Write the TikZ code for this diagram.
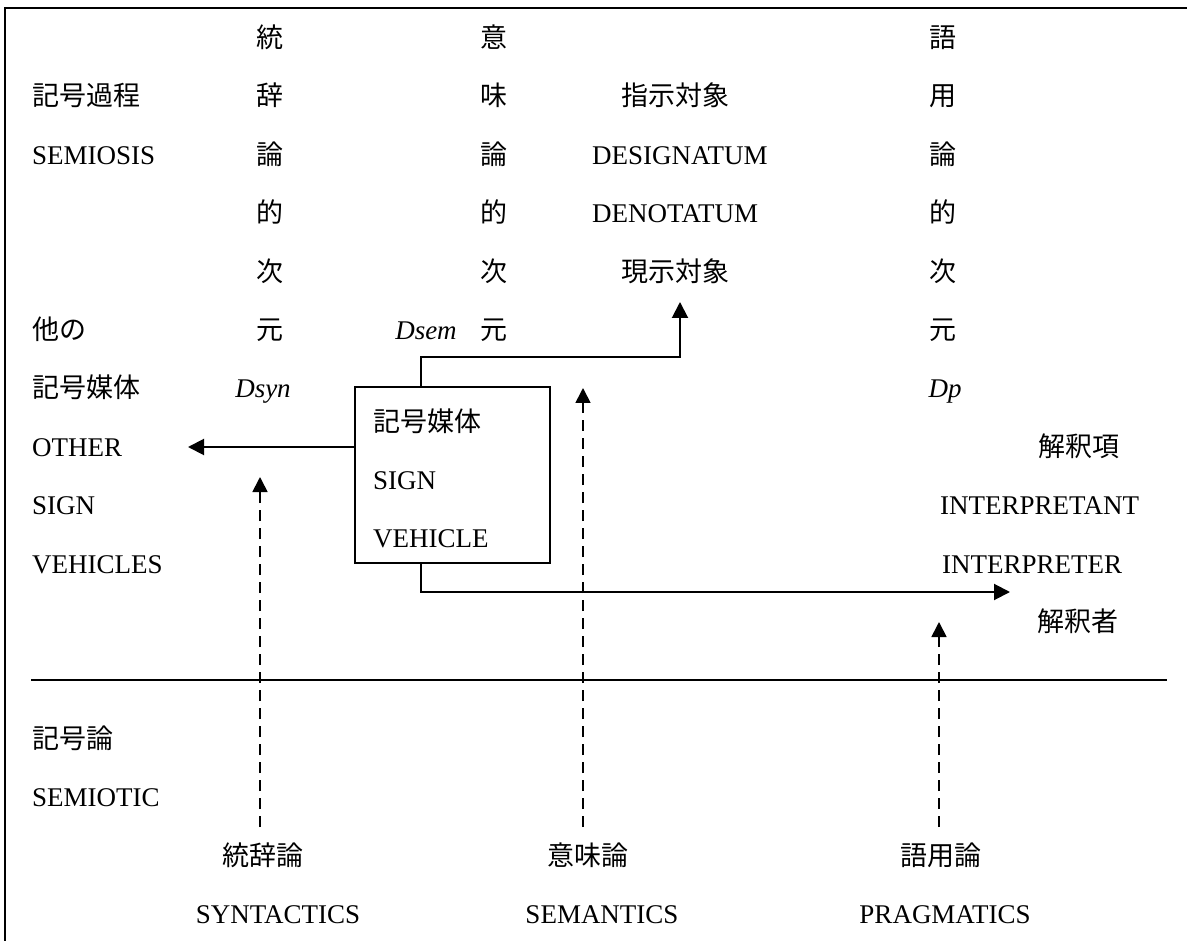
\documentclass[tikz,border=0pt]{standalone}
\usepackage{fontspec}
\setmainfont{Liberation Serif}
\newfontfamily\jp{Noto Sans CJK JP}
\usetikzlibrary{arrows.meta}

\begin{document}
\begin{tikzpicture}[x=1pt,y=-1pt,
  txt/.style={inner sep=0pt, text height=19pt, text depth=0pt,
              font=\fontsize{27pt}{30pt}\selectfont},
  jtxt/.style={txt, font=\fontsize{27pt}{30pt}\selectfont\jp},
  itxt/.style={txt, font=\fontsize{27pt}{30pt}\selectfont\itshape},
  solidline/.style={line width=2pt},
  arr/.style={solidline, -{Triangle[width=16pt,length=16pt]}},
  darr/.style={line width=1.7pt, dash pattern=on 11pt off 7pt,
               -{Triangle[width=15pt,length=15pt]}},
  vbox/.style={draw, line width=1.7pt, minimum width=195pt,
               minimum height=176pt, inner sep=0pt}
]
\useasboundingbox (0,0) rectangle (1187,941);

% open frame: top and left edges only
\draw[line width=2.6pt] (5,941) -- (5,8) -- (1187,8);

% row positions
\def\rowy#1{\fpeval{38+58.4*#1}}

% left column
\node[jtxt, anchor=west] (semproc)  at (32,\rowy{1})  {記号過程};
\node[txt,  anchor=west] (semiosis) at (32,\rowy{2})  {SEMIOSIS};
\node[jtxt, anchor=west] (otherA)   at (32,\rowy{5})  {他の};
\node[jtxt, anchor=west] (otherB)   at (32,\rowy{6})  {記号媒体};
\node[txt,  anchor=west] (otherC)   at (32,\rowy{7})  {OTHER};
\node[txt,  anchor=west] (otherD)   at (32,\rowy{8})  {SIGN};
\node[txt,  anchor=west] (otherE)   at (32,\rowy{9})  {VEHICLES};
\node[jtxt, anchor=west] (semioticA) at (32,\rowy{12}) {記号論};
\node[txt,  anchor=west] (semioticB) at (32,\rowy{13}) {SEMIOTIC};

% vertical dimension labels
\foreach \c [count=\i from 0] in {統,辞,論,的,次,元}
  \node[jtxt] (syn\i) at (270,\rowy{\i}) {\c};
\foreach \c [count=\i from 0] in {意,味,論,的,次,元}
  \node[jtxt] (sem\i) at (494,\rowy{\i}) {\c};
\foreach \c [count=\i from 0] in {語,用,論,的,次,元}
  \node[jtxt] (prag\i) at (943,\rowy{\i}) {\c};
\node[itxt] (dsyn) at (263,\rowy{6}) {Dsyn};
\node[itxt] (dsem) at (426,\rowy{5}) {Dsem};
\node[itxt] (dp)   at (945,\rowy{6}) {Dp};

% designatum / denotatum
\node[jtxt, anchor=west] (desA) at (621,\rowy{1}) {指示対象};
\node[txt,  anchor=west] (desB) at (592,\rowy{2}) {DESIGNATUM};
\node[txt,  anchor=west] (desC) at (592,\rowy{3}) {DENOTATUM};
\node[jtxt, anchor=west] (desD) at (621,\rowy{4}) {現示対象};

% interpretant / interpreter
\node[jtxt] (intA) at (1079,\rowy{7}) {解釈項};
\node[txt, anchor=west] (intB) at (940,\rowy{8}) {INTERPRETANT};
\node[txt, anchor=west] (intC) at (942,\rowy{9}) {INTERPRETER};
\node[jtxt] (intD) at (1078,\rowy{10}) {解釈者};

% sign vehicle box
\node[vbox] (box) at (452.5,475) {};
\node[jtxt, anchor=west] (boxA) at (373,422) {記号媒体};
\node[txt,  anchor=west] (boxB) at (373,480) {SIGN};
\node[txt,  anchor=west] (boxC) at (373,538) {VEHICLE};

% bottom labels
\node[jtxt] (bsynA)  at (263,\rowy{14}) {統辞論};
\node[txt]  (bsynB)  at (278,\rowy{15}) {SYNTACTICS};
\node[jtxt] (bsemA)  at (588,\rowy{14}) {意味論};
\node[txt]  (bsemB)  at (602,\rowy{15}) {SEMANTICS};
\node[jtxt] (bpragA) at (941,\rowy{14}) {語用論};
\node[txt]  (bpragB) at (945,\rowy{15}) {PRAGMATICS};

% separator between semiosis and semiotic
\coordinate (sepL) at (31,680);
\coordinate (sepR) at (1167,680);
\draw[solidline] (sepL) -- (sepR);

% arrow ends
\coordinate (otherTip) at (188,447);
\coordinate (desTip)   at (680,302);
\coordinate (intTip)   at (1010,592);
\coordinate (synBot)   at (260,827);
\coordinate (synTip)   at (260,477);
\coordinate (semBot)   at (583,827);
\coordinate (semTip)   at (583,388);
\coordinate (pragBot)  at (939,827);
\coordinate (pragTip)  at (939,622);

% relations of the sign vehicle
\draw[arr] (box.west |- otherTip) -- (otherTip);
\draw[arr] ([xshift=-31.5pt]box.north) -- ++(0,-29) -| (desTip);
\draw[arr] ([xshift=-31.5pt]box.south) |- (intTip);

% dimensions studied by each branch
\draw[darr] (synBot) -- (synTip);
\draw[darr] (semBot) -- (semTip);
\draw[darr] (pragBot) -- (pragTip);
\end{tikzpicture}
\end{document}
